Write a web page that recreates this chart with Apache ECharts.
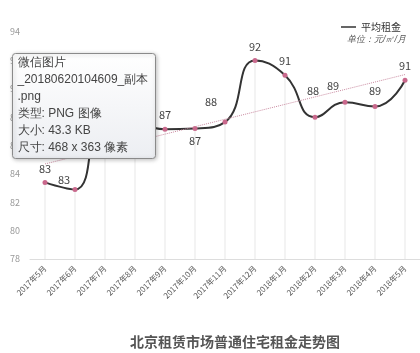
<!DOCTYPE html>
<html>
<head>
<meta charset="utf-8">
<script src="https://cdn.jsdelivr.net/npm/echarts@6/dist/echarts.min.js"></script>
<style>
  html, body { margin: 0; padding: 0; background: #fff; }
  #chart { width: 420px; height: 353px; }
</style>
</head>
<body>
<div id="chart"></div>
<script>
// 北京租赁市场普通住宅租金走势图
const months = ['2017年5月', '2017年6月', '2017年7月', '2017年8月', '2017年9月', '2017年10月', '2017年11月',
  '2017年12月', '2018年1月', '2018年2月', '2018年3月', '2018年4月', '2018年5月']
const rent = [83.4, 82.9, 88.3, 87.8, 87.15, 87.2, 87.65, 92.0, 90.95, 88.0, 89.05, 88.75, 90.6]
// 趋势线 起点/终点
const trend = [84.7, 91.0]
const yTicks = [78, 80, 82, 84, 86, 88, 90, 92, 94]
// 悬浮的文件信息框
const fileInfo = ['微信图片', '_20180620104609_副本', '.png', '类型: PNG 图像', '大小: 43.3 KB', '尺寸: 468 x 363 像素']

// 每个标签的偏移 (手动避开线条)
const labelOffsets = {
  1: [-11, 4], 5: 'bottom', 6: [-14, -6], 9: [-2, -12], 10: [-12, -2], 11: [0, -2]
}

let chart = echarts.init(document.getElementById('chart'))
const font = '"Noto Sans CJK SC", "Noto Sans", sans-serif'

let lineData = rent.map((v, i) => {
  let o = labelOffsets[i]
  if (o === 'bottom') return { value: v, label: { position: 'bottom', distance: 4 } }
  if (o) return { value: v, label: { offset: o } }
  return v
})

let option = {
  animation: false,
  textStyle: { fontFamily: font },
  title: {
    text: '北京租赁市场普通住宅租金走势图',
    left: 125,
    top: 330,
    textStyle: { fontSize: 14, fontWeight: 'bold', color: '#555' }
  },
  legend: {
    right: 14,
    top: 17,
    icon: 'rect',
    itemWidth: 15,
    itemHeight: 1.5,
    itemGap: 6,
    data: [{ name: '平均租金', itemStyle: { color: '#333' } }],
    textStyle: { fontSize: 10, color: '#333' }
  },
  grid: { left: 30, right: 0, top: 32, bottom: 94, containLabel: false },
  xAxis: {
    type: 'category',
    data: months,
    boundaryGap: true,
    axisLine: { lineStyle: { color: '#ddd' } },
    axisTick: { show: false },
    axisLabel: { rotate: 45, fontSize: 8, color: '#555', interval: 0, margin: 8 }
  },
  yAxis: {
    type: 'value',
    min: yTicks[0],
    max: yTicks[yTicks.length - 1],
    interval: 2,
    axisLine: { show: false },
    axisTick: { show: false },
    splitLine: { show: false },
    axisLabel: { fontSize: 9, color: '#999', margin: 10 }
  },
  series: [
    {
      name: 'drop',
      type: 'bar',
      barWidth: 1,
      silent: true,
      itemStyle: { color: '#e8e8e8' },
      data: rent,
      z: 1
    },
    {
      name: '平均租金',
      type: 'line',
      smooth: true,
      data: lineData,
      symbol: 'circle',
      symbolSize: 5,
      itemStyle: { color: '#c9688c' },
      lineStyle: { color: '#333', width: 2 },
      label: { show: true, position: 'top', distance: 6, fontSize: 11, color: '#444',
        formatter: p => Math.round(p.value) },
      markLine: {
        silent: true,
        symbol: 'none',
        label: { show: false },
        lineStyle: { color: '#c98aa0', type: 'dotted', width: 1 },
        data: [[{ coord: [0, trend[0]] }, { coord: [months.length - 1, trend[1]] }]]
      },
      z: 3
    }
  ],
  graphic: [
    {
      type: 'text',
      right: 14,
      top: 35,
      style: { text: '单位：元/㎡/月', fontSize: 9, fontStyle: 'italic', fill: '#555', font: 'italic 9px ' + font }
    },
    {
      type: 'group',
      left: 12,
      top: 53,
      z: 100,
      zlevel: 1,
      children: [
        {
          type: 'rect',
          z: 100,
          zlevel: 1,
          shape: { x: 0, y: 0, width: 143, height: 105, r: 3 },
          style: {
            fill: new echarts.graphic.LinearGradient(0, 0, 0, 1, [
              { offset: 0, color: '#ffffff' },
              { offset: 1, color: '#eceef2' }
            ]),
            stroke: '#8a8a8a',
            lineWidth: 1,
            shadowBlur: 4,
            shadowOffsetX: 1,
            shadowOffsetY: 1,
            shadowColor: 'rgba(0,0,0,0.25)'
          }
        }
      ].concat(fileInfo.map((t, i) => ({
        type: 'text',
        z: 101,
        zlevel: 1,
        x: 5,
        y: 3 + i * 17,
        style: { text: t, fontSize: 12, fill: '#444', font: '12px ' + font }
      })))
    }
  ]
}

option && chart.setOption(option)
</script>
</body>
</html>
